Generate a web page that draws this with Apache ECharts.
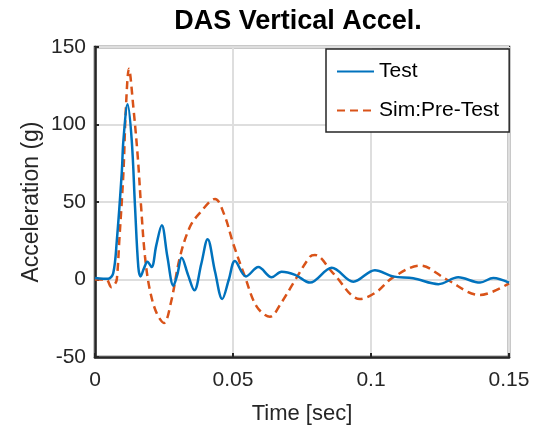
<!DOCTYPE html>
<html>
<head>
<meta charset="utf-8">
<script src="https://cdn.jsdelivr.net/npm/echarts@6/dist/echarts.min.js"></script>
<style>html,body{margin:0;padding:0;background:#fff}#c{width:542px;height:425px}</style>
</head>
<body>
<div id="c"></div>
<script>
const titleText = 'DAS Vertical Accel.';
const xLabel = 'Time [sec]';
const yLabel = 'Acceleration (g)';
const xTicks = [0, 0.05, 0.1, 0.15];
const yTicks = [-50, 0, 50, 100, 150];
const seriesNames = ['Test', 'Sim:Pre-Test'];

const testData = [
  [0,1],[0.003,0.5],[0.0048,0.5],[0.0066,4],[0.0079,25],[0.0097,69],[0.0103,90],[0.0118,113],
  [0.0133,90],[0.0145,47],[0.0157,8],[0.0165,2],[0.0177,7],[0.019,11.5],[0.0205,8],[0.0222,22],
  [0.0242,35],[0.0262,15],[0.0284,-4],[0.0298,3],[0.0314,14],[0.0337,3],[0.036,-7],[0.0385,10],
  [0.0408,26],[0.0435,5],[0.0461,-12.6],[0.0485,0],[0.0507,12],[0.0547,2],[0.0592,8],[0.064,1.4],
  [0.0676,5],[0.0725,3],[0.0779,-2],[0.0858,7.6],[0.0936,-1.4],[0.1014,6],[0.108,2],[0.1153,0.8],
  [0.1244,-3],[0.1316,1.4],[0.1395,-2],[0.1443,1],[0.15,-2]
];
const simData = [
  [0,0],[0.004,0],[0.006,-5],[0.0072,-3],[0.0079,0],[0.0088,25],[0.0103,69],[0.0112,111],
  [0.0123,136],[0.0139,111],[0.0155,79],[0.0167,47],[0.0181,15],[0.0199,-7],[0.0224,-22],
  [0.025,-28],[0.0275,-15],[0.0308,14.7],[0.0344,34],[0.038,43],[0.0435,52],[0.0468,42],
  [0.0501,23],[0.0543,2],[0.0586,-17.5],[0.0634,-24],[0.0675,-15],[0.0718,-2.5],[0.0779,14.7],
  [0.0797,15.8],[0.0863,4],[0.096,-12.6],[0.102,-8],[0.108,1.4],[0.1178,9],[0.1274,0],
  [0.1395,-10],[0.15,-2.5]
];

const FONT = '"Liberation Sans", Arial, Helvetica, sans-serif';
const TXT = '#262626';
const chart = echarts.init(document.getElementById('c'), null, {renderer: 'canvas'});
chart.setOption({
  animation: false,
  backgroundColor: '#fff',
  title: {
    text: titleText, left: 293, top: 3, textAlign: 'center',
    textStyle: {fontFamily: FONT, fontWeight: 'bold', fontSize: 27, color: '#000'}
  },
  legend: {
    orient: 'vertical', left: 326, top: 49,
    padding: [12, 10, 11, 10], itemGap: 18, itemWidth: 37, itemHeight: 14,
    backgroundColor: '#fff', borderColor: TXT, borderWidth: 1.5,
    itemStyle: {opacity: 0},
    textStyle: {fontFamily: FONT, fontSize: 21, color: '#000'},
    data: seriesNames
  },
  grid: {left: 95, top: 47, right: 33, bottom: 68, show: true, borderColor: TXT, borderWidth: 2.5,
    containLabel: false, outerBoundsMode: 'none'},
  xAxis: {
    type: 'value', min: xTicks[0], max: xTicks[xTicks.length-1], interval: 0.05,
    name: xLabel, nameLocation: 'middle', nameGap: 46, nameMoveOverlap: false,
    nameTextStyle: {fontFamily: FONT, fontSize: 22, color: TXT},
    axisLine: {show: true, onZero: false, lineStyle: {color: TXT, width: 2.5}},
    axisTick: {show: true, inside: true, length: 4, lineStyle: {color: TXT, width: 2}},
    axisLabel: {fontFamily: FONT, fontSize: 21, color: TXT, margin: 13,
      formatter: v => String(+v.toFixed(2))},
    splitLine: {show: true, lineStyle: {color: '#dedede', width: 2}}
  },
  yAxis: {
    type: 'value', min: yTicks[0], max: yTicks[yTicks.length-1], interval: 50,
    name: yLabel, nameLocation: 'middle', nameGap: 52, nameRotate: 90, nameMoveOverlap: false,
    nameTextStyle: {fontFamily: FONT, fontSize: 23, color: TXT},
    axisLine: {show: true, onZero: false, lineStyle: {color: TXT, width: 2.5}},
    axisTick: {show: true, inside: true, length: 4, lineStyle: {color: TXT, width: 2}},
    axisLabel: {fontFamily: FONT, fontSize: 21, color: TXT, margin: 9},
    splitLine: {show: true, lineStyle: {color: '#dedede', width: 2}}
  },
  series: [
    {name: seriesNames[0], type: 'line', data: testData, smooth: 0.35, showSymbol: false, symbol: 'none',
      lineStyle: {color: '#0072BD', width: 2.5}, itemStyle: {color: '#0072BD'}, z: 3},
    {name: seriesNames[1], type: 'line', data: simData, smooth: 0.35, showSymbol: false, symbol: 'none',
      lineStyle: {color: '#D95319', width: 2.5, type: [8, 5]}, itemStyle: {color: '#D95319'}, z: 2}
  ]
});
</script>
</body>
</html>
